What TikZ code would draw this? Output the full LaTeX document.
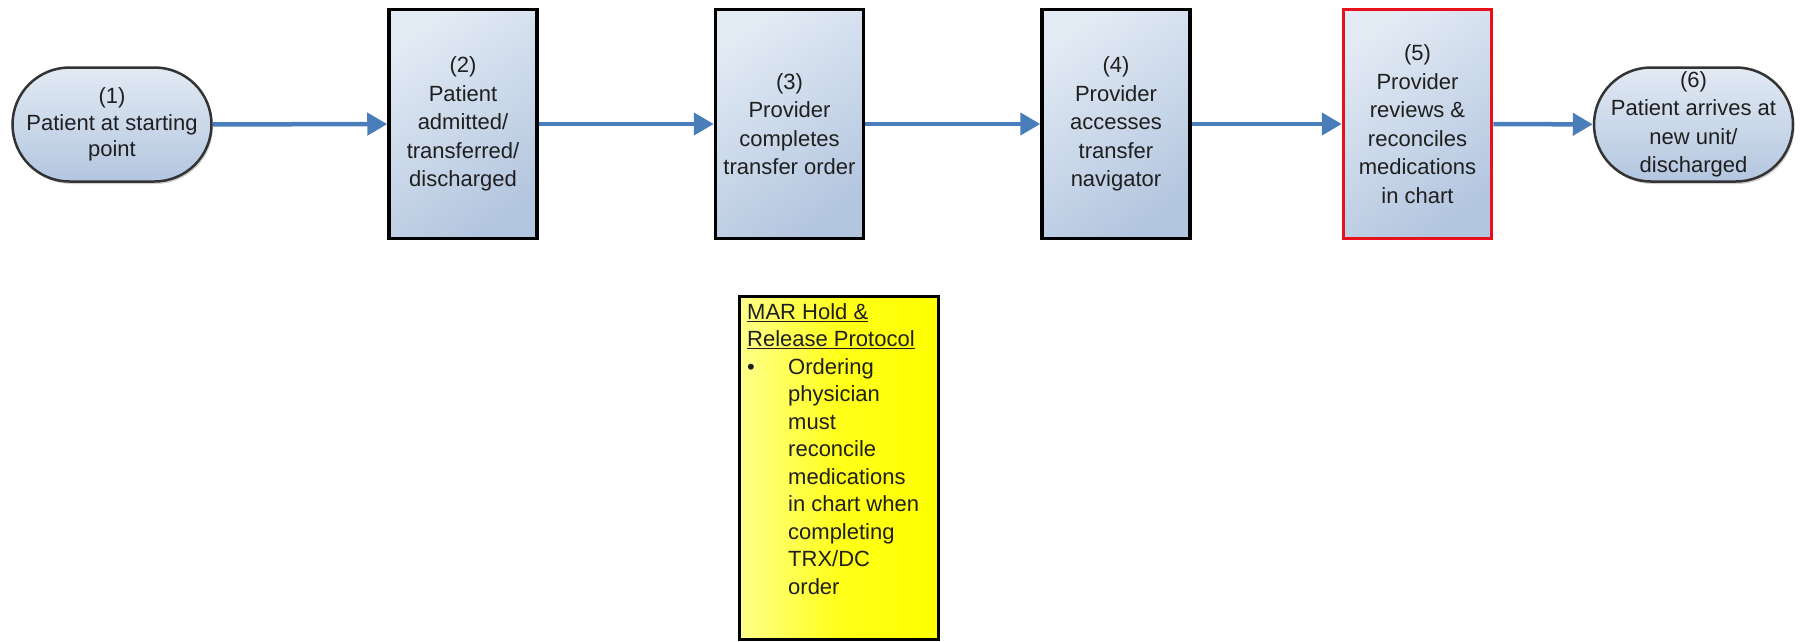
\documentclass[tikz,border=0pt]{standalone}
\usepackage{fontspec}
\setmainfont{Liberation Sans}
\usetikzlibrary{arrows.meta,shadows}
\definecolor{arrowblue}{HTML}{4A7EBB}
\definecolor{boxlight}{HTML}{E2EAF4}
\definecolor{boxdark}{HTML}{B3C6DF}
\definecolor{txt}{HTML}{1F1F1F}
\definecolor{redline}{HTML}{E8101A}
\begin{document}
\begin{tikzpicture}[x=1pt,y=-1pt,
  every node/.style={font=\fontsize{22}{28.5}\selectfont, text=txt, align=center, inner sep=0pt},
  procbox/.style={draw=black, line width=3.5pt, minimum width=148pt, minimum height=229pt,
    top color=boxlight, bottom color=boxdark, shading angle=35},
  ovalbox/.style={draw=black!80, line width=2.5pt, minimum width=199pt, minimum height=114pt,
    rounded corners=57pt, top color=boxlight, bottom color=boxdark,
    drop shadow={shadow xshift=1.5pt, shadow yshift=-2.5pt, opacity=0.35}},
  notebox/.style={draw=black, line width=3pt, minimum width=199pt, minimum height=343pt,
    left color=yellow!45!white, right color=yellow, middle color=yellow!90!white},
  flow/.style={draw=arrowblue, line width=4.5pt, -{Triangle[length=20pt,width=22pt]}}]
\useasboundingbox (0,0) rectangle (1800,641);
\fill[white] (0,0) rectangle (1800,641);

\node[ovalbox, font=\fontsize{22}{26.5}\selectfont] (n1) at (112,124.5) {(1)\\Patient at starting\\point};
\node[procbox] (n2) at (463,124) {(2)\\Patient\\admitted/\\transferred/\\discharged};
\node[procbox] (n3) at (789.5,124) {(3)\\Provider\\completes\\transfer order};
\node[procbox] (n4) at (1116,124) {(4)\\Provider\\accesses\\transfer\\navigator};
\node[procbox, draw=redline] (n5) at (1417.5,124) {(5)\\Provider\\reviews \&\\reconciles\\medications\\in chart};
\node[ovalbox] (n6) at (1693.5,124.5) {(6)\\Patient arrives at\\new unit/\\discharged};

\draw[flow] (n1) -- (n2);
\draw[flow] (n2) -- (n3);
\draw[flow] (n3) -- (n4);
\draw[flow] (n4) -- (n5);
\draw[flow] (n5) -- (n6);

\node[notebox] (mar) at (839,468) {};
\node[anchor=north west, align=left, font=\fontsize{22}{27.5}\selectfont] (martext)
  at ([xshift=9pt,yshift=-8pt]mar.north west)
  {\underline{MAR Hold \&}\\
   \underline{Release Protocol}\\
   \makebox[41pt][l]{\textbullet}Ordering\\
   \hspace*{41pt}physician\\
   \hspace*{41pt}must\\
   \hspace*{41pt}reconcile\\
   \hspace*{41pt}medications\\
   \hspace*{41pt}in chart when\\
   \hspace*{41pt}completing\\
   \hspace*{41pt}TRX/DC\\
   \hspace*{41pt}order};
\end{tikzpicture}
\end{document}
